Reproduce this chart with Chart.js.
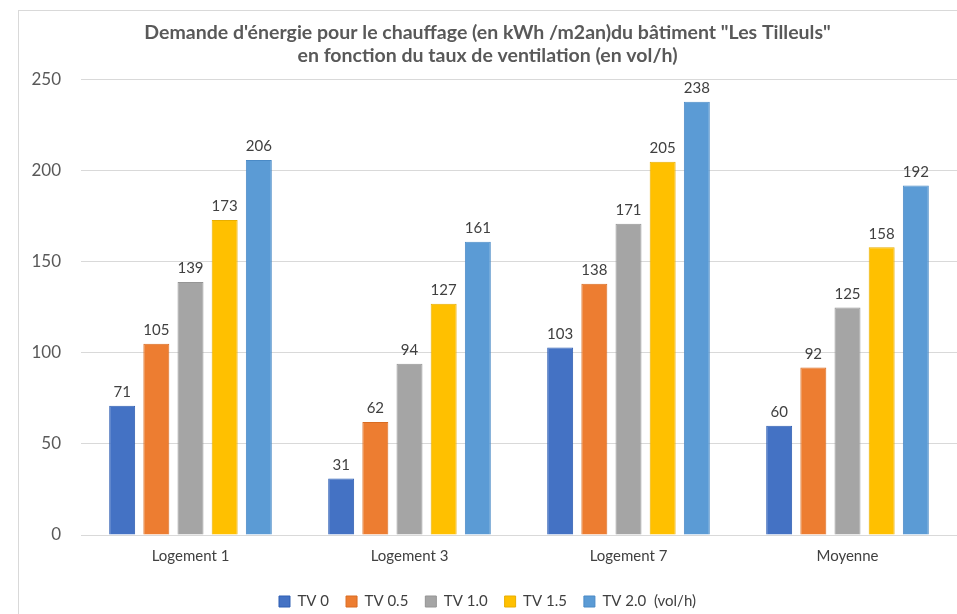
<!DOCTYPE html>
<html lang="fr">
<head>
<meta charset="UTF-8">
<title>Demande d'énergie - Les Tilleuls</title>
<script src="https://cdn.jsdelivr.net/npm/chart.js"></script>
<style>
    html, body { margin: 0; padding: 0; background: #ffffff; overflow: hidden; }
    .frame {
        position: absolute;
        left: 18px;
        top: 10px;
        width: 939px;
        height: 604px;
        border-left: 1px solid #d9d9d9;
        border-top: 1px solid #d9d9d9;
    }
    .wrap { position: absolute; left: 0; top: 0; width: 957px; height: 614px; }
</style>
</head>
<body>
<div class="frame"></div>
<div class="wrap"><canvas id="chart"></canvas></div>
<script>
    const categories = ['Logement 1', 'Logement 3', 'Logement 7', 'Moyenne'];
    const seriesNames = ['TV 0', 'TV 0.5', 'TV 1.0', 'TV 1.5', 'TV 2.0  (vol/h)'];
    const tv00 = [71, 31, 103, 60];
    const tv05 = [105, 62, 138, 92];
    const tv10 = [139, 94, 171, 125];
    const tv15 = [173, 127, 205, 158];
    const tv20 = [206, 161, 238, 192];

    const fills = ['#4472c4', '#ed7d31', '#a5a5a5', '#ffc000', '#5b9bd5'];
    const edges = ['#2f5fb3', '#d96c22', '#959595', '#e8ae00', '#4a8ac6'];
    const values = [tv00, tv05, tv10, tv15, tv20];

    const fontFamily = 'Lato, "Open Sans", sans-serif';

    // write each bar's value just above it
    const barValues = {
        id: 'barValues',
        afterDatasetsDraw(chart) {
            const ctx = chart.ctx;
            ctx.save();
            ctx.font = '15px ' + fontFamily;
            ctx.fillStyle = '#404040';
            ctx.textAlign = 'center';
            ctx.textBaseline = 'bottom';
            chart.data.datasets.forEach((ds, i) => {
                chart.getDatasetMeta(i).data.forEach((bar, j) => {
                    ctx.fillText(ds.data[j], bar.x, bar.y - 6);
                });
            });
            ctx.restore();
        }
    };

    new Chart(document.getElementById('chart'), {
        type: 'bar',
        data: {
            labels: categories,
            datasets: seriesNames.map((name, i) => ({
                label: name,
                data: values[i],
                backgroundColor: fills[i],
                borderColor: edges[i],
                borderWidth: 1,
                categoryPercentage: 0.78,
                barPercentage: 0.76
            }))
        },
        options: {
            responsive: true,
            maintainAspectRatio: false,
            animation: false,
            layout: { padding: { left: 18, right: 0, top: 21, bottom: -5 } },
            scales: {
                x: {
                    grid: { display: false, drawTicks: false },
                    border: { color: '#d9d9d9' },
                    ticks: { color: '#404040', font: { size: 15, family: fontFamily }, padding: 12 }
                },
                y: {
                    min: 0,
                    max: 250,
                    ticks: { stepSize: 50, color: '#595959', font: { size: 17, family: fontFamily }, padding: 20 },
                    grid: { color: '#d9d9d9', drawTicks: false },
                    border: { display: false },
                    afterFit(scale) { scale.width = 63; }
                }
            },
            plugins: {
                title: {
                    display: true,
                    text: ['Demande d\'énergie pour le chauffage (en kWh /m2an)du bâtiment "Les Tilleuls"',
                           'en fonction du taux de ventilation (en vol/h)'],
                    color: '#595959',
                    font: { size: 19.5, weight: 'bold', family: fontFamily },
                    lineHeight: 1.26,
                    padding: { top: 0, bottom: 12 }
                },
                legend: {
                    position: 'bottom',
                    labels: {
                        color: '#404040',
                        boxWidth: 11,
                        boxHeight: 11,
                        padding: 17,
                        font: { size: 15, family: fontFamily }
                    }
                },
                tooltip: { enabled: false }
            }
        },
        plugins: [barValues]
    });
</script>
</body>
</html>
